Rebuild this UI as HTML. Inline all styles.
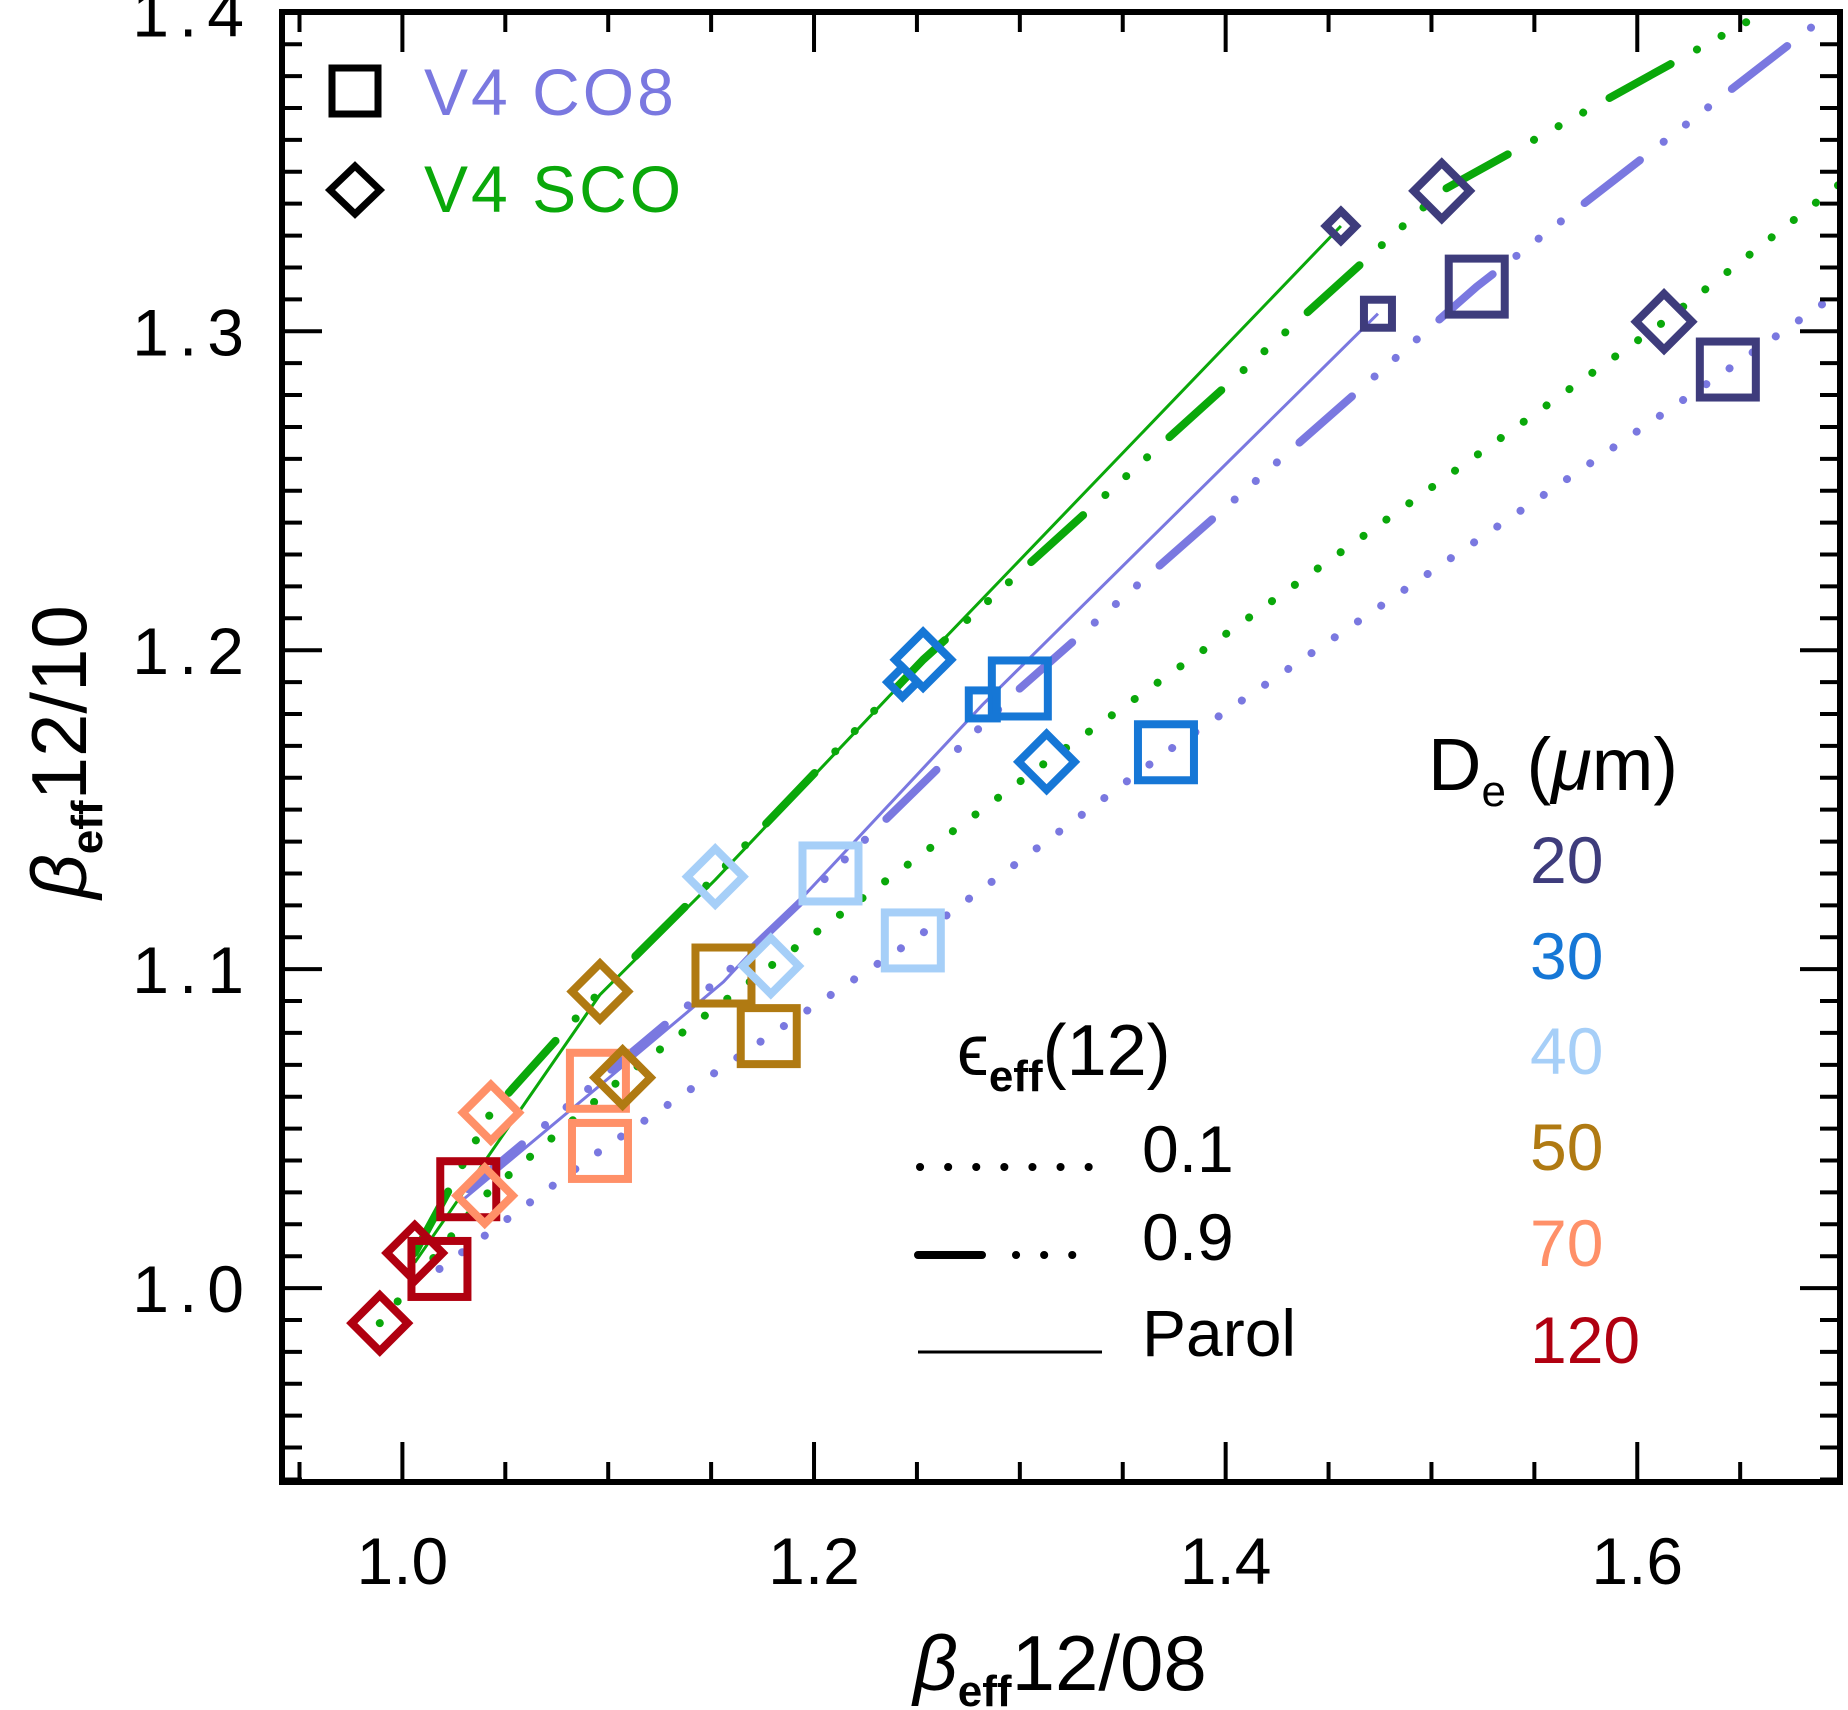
<!DOCTYPE html>
<html><head><meta charset="utf-8"><style>
body{margin:0;background:#fff}
svg{display:block;font-family:"Liberation Sans",sans-serif}
</style></head><body>
<svg id="chart" width="1848" height="1710" viewBox="0 0 1848 1710">
<defs><clipPath id="plotclip"><rect x="282" y="12" width="1558" height="1470"/></clipPath></defs>
<g id="marks" clip-path="url(#plotclip)"></g>
<g id="axes"></g>
<g id="legend"></g>
</svg>
<script>
const deLabels = ['20','30','40','50','70','120'];
const deColors = ['#3e3c7c','#1677d6','#a6cff8','#b07a12','#ff9068','#b00010'];
// CO8 squares (x, y) per De
const co8x_01 = [1.644,1.371,1.248,1.178,1.096,1.018];
const co8y_01 = [1.288,1.168,1.109,1.079,1.043,1.006];
const co8x_09 = [1.522,1.300,1.208,1.156,1.095,1.032];
const co8y_09 = [1.314,1.188,1.130,1.098,1.065,1.031];
const co8x_par = [1.474,1.282];
const co8y_par = [1.3055,1.183];
// SCO diamonds
const scox_01 = [1.613,1.313,1.179,1.107,1.040,0.989];
const scoy_01 = [1.303,1.165,1.101,1.066,1.029,0.989];
const scox_09 = [1.505,1.253,1.152,1.096,1.043,1.006];
const scoy_09 = [1.344,1.197,1.129,1.093,1.055,1.011];
const scox_par = [1.456,1.243];
const scoy_par = [1.333,1.190];
// line extension ends
const lineEndX = {g01:1.700,g09:1.670,p01:1.700,p09:1.700};
const lineEndY = {g01:1.347,g09:1.403,p01:1.313,p09:1.403};
const parolGx = [1.006,1.096,1.152,1.243,1.456];
const parolGy = [1.008,1.092,1.128,1.190,1.333];
const parolPx = [1.030,1.095,1.156,1.282,1.474];
const parolPy = [1.028,1.063,1.096,1.183,1.3055];
const xTicks = [1.0,1.2,1.4,1.6];
const xTickLabels = ['1.0','1.2','1.4','1.6'];
const yTicks = [1.0,1.1,1.2,1.3,1.4];
const yTickLabels = ['1.0','1.1','1.2','1.3','1.4'];

const X0=282,X1=1840,Y0=12,Y1=1482;
const xmin=0.9415,xmax=1.6985,ymin=0.9392,ymax=1.4001;
const sx=v=>X0+(v-xmin)/(xmax-xmin)*(X1-X0);
const sy=v=>Y1-(v-ymin)/(ymax-ymin)*(Y1-Y0);
const NS='http://www.w3.org/2000/svg';
function mk(tag,attrs,parent){const e=document.createElementNS(NS,tag);for(const k in attrs)e.setAttribute(k,attrs[k]);parent.appendChild(e);return e;}
const marks=document.getElementById('marks'),axes=document.getElementById('axes'),legend=document.getElementById('legend');
const GREEN='#0aa80a',PURP='#7a78e0';
const DOT='0.1 28', DD='70 30 0.1 28 0.1 28 0.1 30';

function poly(xs,ys,ex,ey,color,w,dash,name){
  const pts=xs.map((v,i)=>[sx(v),sy(ys[i])]);
  if(ex!==undefined)pts.unshift([sx(ex),sy(ey)]);
  pts.sort((a,b)=>a[0]-b[0]);
  const p=mk('polyline',{points:pts.map(q=>q.join(',')).join(' '),fill:'none',stroke:color,'stroke-width':w,'stroke-linecap':dash?'round':'butt','stroke-linejoin':'round'},marks);
  if(dash)p.setAttribute('stroke-dasharray',dash);
  
  
}
poly(co8x_01,co8y_01,lineEndX.p01,lineEndY.p01,PURP,8,DOT,'co8-eps01-line');
poly(co8x_09,co8y_09,lineEndX.p09,lineEndY.p09,PURP,8,DD,'co8-eps09-line');
poly(scox_01,scoy_01,lineEndX.g01,lineEndY.g01,GREEN,8,DOT,'sco-eps01-line');
poly(scox_09,scoy_09,lineEndX.g09,lineEndY.g09,GREEN,8,DD,'sco-eps09-line');
poly(parolPx,parolPy,undefined,undefined,PURP,3,null,'co8-parol-line');
poly(parolGx,parolGy,undefined,undefined,GREEN,3,null,'sco-parol-line');

function square(x,y,s,c,name){
  const r=mk('rect',{x:sx(x)-s/2,y:sy(y)-s/2,width:s,height:s,fill:'none',stroke:c,'stroke-width':8},marks);
  
  
}
function diamond(x,y,s,c,name){
  const cx=sx(x),cy=sy(y),h=s/2;
  const p=mk('polygon',{points:`${cx},${cy-h} ${cx+h},${cy} ${cx},${cy+h} ${cx-h},${cy}`,fill:'none',stroke:c,'stroke-width':8},marks);
  
  
}
co8x_01.forEach((v,i)=>square(v,co8y_01[i],56,deColors[i],'co8-eps01-marker-'+deLabels[i]));
co8x_09.forEach((v,i)=>square(v,co8y_09[i],56,deColors[i],'co8-eps09-marker-'+deLabels[i]));
co8x_par.forEach((v,i)=>square(v,co8y_par[i],28,deColors[i],'co8-parol-marker-'+deLabels[i]));
scox_01.forEach((v,i)=>diamond(v,scoy_01[i],56,deColors[i],'sco-eps01-marker-'+deLabels[i]));
scox_09.forEach((v,i)=>diamond(v,scoy_09[i],56,deColors[i],'sco-eps09-marker-'+deLabels[i]));
scox_par.forEach((v,i)=>diamond(v,scoy_par[i],30,deColors[i],'sco-parol-marker-'+deLabels[i]));

// frame
mk('rect',{x:X0,y:Y0,width:X1-X0,height:Y1-Y0,fill:'none',stroke:'#000','stroke-width':6},axes);
// x ticks
for(let v=0.95;v<1.70;v+=0.05){
  const major=Math.abs(v*5-Math.round(v*5))<1e-6;const L=major?40:20;const x=sx(v);
  mk('line',{x1:x,y1:Y1,x2:x,y2:Y1-L,stroke:'#000','stroke-width':4},axes);
  mk('line',{x1:x,y1:Y0,x2:x,y2:Y0+L,stroke:'#000','stroke-width':4},axes);
}
for(let k=94;k<=140;k++){const v=k/100;const major=k%10===0;const L=major?40:20;const y=sy(v);
  mk('line',{x1:X0,y1:y,x2:X0+L,y2:y,stroke:'#000','stroke-width':4},axes);
  mk('line',{x1:X1,y1:y,x2:X1-L,y2:y,stroke:'#000','stroke-width':4},axes);
}
xTicks.forEach((v,i)=>{const t=mk('text',{x:sx(v),y:1584,'font-size':66,'text-anchor':'middle'},axes);t.textContent=xTickLabels[i];
  
  });
yTicks.forEach((v,i)=>{const t=mk('text',{x:254,y:sy(v)+24,'font-size':66,'text-anchor':'end','letter-spacing':'10'},axes);t.textContent=yTickLabels[i];
  
  });
</script>
<svg style="position:absolute;left:0;top:0" width="1848" height="1710">
<text x="1060" y="1690" font-size="78" text-anchor="middle" font-family="Liberation Sans,sans-serif"><tspan font-style="italic">β</tspan><tspan font-size="44" dy="16" font-weight="bold">eff</tspan><tspan dy="-16">12/08</tspan></text>
<text transform="translate(86,752) rotate(-90)" font-size="78" text-anchor="middle" font-family="Liberation Sans,sans-serif"><tspan font-style="italic">β</tspan><tspan font-size="44" dy="16" font-weight="bold">eff</tspan><tspan dy="-16">12/10</tspan></text>
<g font-family="Liberation Sans,sans-serif" font-size="66" letter-spacing="3">
<rect x="332" y="68" width="46" height="46" fill="none" stroke="#000" stroke-width="7"/>
<text x="424" y="115" fill="#7a78e0">V4  CO8</text>
<polygon points="355,166 380,190 355,214 330,190" fill="none" stroke="#000" stroke-width="7"/>
<text x="424" y="212" fill="#0aa80a">V4  SCO</text>
</g>
<g font-family="Liberation Sans,sans-serif" font-size="66">
<text x="1428" y="790" font-size="74">D<tspan font-size="44" dy="16">e</tspan><tspan dy="-16"> (</tspan><tspan font-style="italic">μ</tspan>m)</text>
<text x="1530" y="883" fill="#3e3c7c">20</text>
<text x="1530" y="979" fill="#1677d6">30</text>
<text x="1530" y="1074" fill="#a6cff8">40</text>
<text x="1530" y="1170" fill="#b07a12">50</text>
<text x="1530" y="1266" fill="#ff9068">70</text>
<text x="1530" y="1363" fill="#b00010">120</text>
</g>
<g font-family="Liberation Sans,sans-serif" font-size="66">
<text x="957" y="1075" font-size="72">ϵ<tspan font-size="44" dy="16" font-weight="bold">eff</tspan><tspan dy="-16">(12)</tspan></text>
<line x1="920" y1="1167" x2="1098" y2="1167" stroke="#000" stroke-width="8" stroke-linecap="round" stroke-dasharray="0.1 28"/>
<text x="1142" y="1172">0.1</text>
<line x1="918" y1="1255" x2="1100" y2="1255" stroke="#000" stroke-width="8" stroke-linecap="round" stroke-dasharray="64 34 0.1 28 0.1 28 0.1 30"/>
<text x="1142" y="1260">0.9</text>
<line x1="918" y1="1352" x2="1102" y2="1352" stroke="#000" stroke-width="3"/>
<text x="1142" y="1356">Parol</text>
</g>
</svg>
</body></html>
